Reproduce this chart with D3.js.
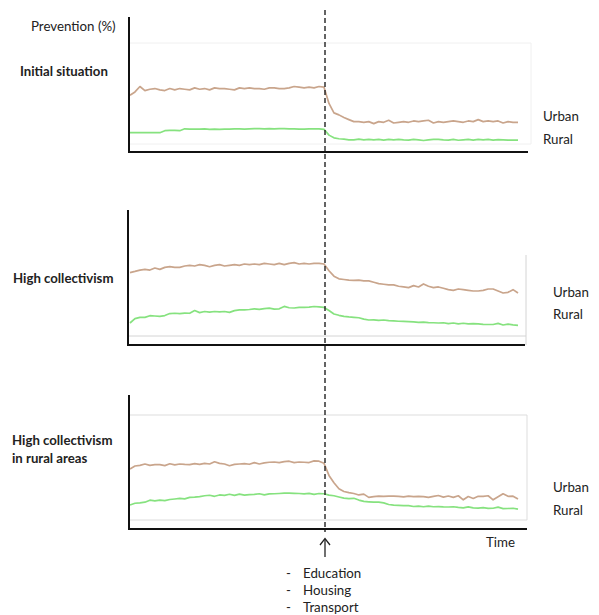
<!DOCTYPE html>
<html><head><meta charset="utf-8">
<script src="https://cdn.jsdelivr.net/npm/d3@7"></script>
<style>body{margin:0;background:#fff;} text{font-family:Lato,"Open Sans",sans-serif;fill:#222;}</style>
</head><body>
<svg id="c" width="599" height="615"></svg>
<script>
// ---- data (prevention %, relative to each panel's axis height) ----
const panelTitles = [["Initial situation"], ["High collectivism"], ["High collectivism", "in rural areas"]];
const seriesNames = ["Urban", "Rural"];
const interventionIndex = 39;
const interventionItems = ["Education", "Housing", "Transport"];
const yAxisLabel = "Prevention (%)";
const xAxisLabel = "Time";

const initialUrban = [42,44.5,48.5,45.5,46.5,47,46,45.5,47,46, 47,46.5,46,47.5,46.5,47,46,47.5,47,47,
  46.5,46,47.5,47,47.5,47,47,46.5,47.5,47.5, 47,47,47.5,48.5,48,47.5,48,47.5,48.5,48,
  36,29,27.5,25.5,24,22.5,22.5,22,22.5,21, 22.5,22,23.5,21.5,22,22.5,22,23,22.5,23,
  23.5,21.5,22.5,22,22.5,23,22.5,22,23,22.5, 24,22.5,23,22.5,23,21.5,22.5,22,22];
const initialRural = [14.3,14.3,14.3,14.3,14.3,14.3,14.3,15.8,16,16, 15.8,17.2,17,17,17,17.2,16.8,17,16.8,17,
  17,17.2,17.2,17,17.2,17.3,17.3,17.2,17.3,17.2, 17.3,17.3,17.2,17.2,17,17,17.2,17.2,17.2,16.8,
  12.5,10.5,9.8,9.5,9,9,9.5,9,9.3,9, 9.3,8.8,9.3,9,9.3,9,8.8,9.3,9,8.5,
  9,9.3,9.3,9,8.8,9.3,8.7,9,9.3,8.8, 9.3,9,9.3,8.8,9.2,9,8.8,8.8,8.8];
const collectUrban = [53.6,54.5,55.5,56,55.5,57,56,57.5,58,57.5, 57.5,58.5,59,58.5,59.5,59,58,59,59.5,58.5,
  59,59.5,59,60,59.5,60,59.5,60.5,60,59.5, 60.5,59.5,60.5,61,60,60.5,60,60.5,60.5,60,
  55,51,49,48.5,48,47.8,48,47.5,47.5,46.5, 45.5,45,44.5,44.5,43.5,43,42.5,44,43,45.2,
  43.5,42.5,43,42,41,40.5,41.5,41,40.5,40, 40,40.5,41.5,41.5,40,38.5,39,41,38.5];
const collectRural = [16.3,19.5,20.5,20.5,21.7,21.5,21.2,21.8,23.3,23.5, 23.3,23.6,23.5,25.5,24,24.8,24.3,24.8,24.6,24.8,
  24.2,25.5,26,26,26.3,26.8,26.4,27,27.3,26.6, 26.8,28.6,27.6,27.4,27.8,27.8,28,28.5,28.2,27.8,
  25.5,23,22,21.2,20.8,20.5,20.2,19.2,18.5,18.6, 18.3,18.5,18,17.8,17.6,17.5,17.3,17.1,16.8,16.9,
  16.6,16.5,16.3,16.5,15.8,16.3,15.7,16.1,15.6,15.8, 15.6,15.3,15.2,15.2,16,14.8,15.4,14.9,14.5];
const ruralCollUrban = [44.8,47,47.5,48.5,47.5,48,48,47.3,48.7,47.8, 48.5,48.2,48,48.8,48.2,49,48.5,50.2,49,48.5,
  47.2,48.2,48.5,48.8,48.3,49.5,48.5,49.3,49.8,50, 49.5,50.3,50.6,49.5,50,49.8,49.6,50.8,50.6,49,
  40,34.5,30,28,27.2,26.5,25.4,26,23.6,24.2, 24.6,24.4,24.6,24.6,24.4,24,24.6,24.2,24.3,24.2,
  23.6,24.4,25,23.8,24.6,23.6,24.8,21.8,24.2,22.8, 24.4,24.4,24.8,21.8,24,26.3,24.4,24.5,22.4];
const ruralCollRural = [17.9,19.2,19.5,20,21.5,21,21.6,21.2,22,22.4, 22.8,22.5,23.6,23.8,24.2,24.8,25.2,24.4,25.4,25.1,
  25.9,25.1,26,25.3,25.6,25.8,26.3,25.5,26.2,26.3, 26.5,26.7,26.7,26.6,26.5,26.2,26.6,25.8,26.5,26.3,
  25.3,24.8,23.9,23,22.6,22.9,21.6,20.6,20.3,20, 20,19.5,18.3,17.8,17.6,17.4,17.5,16.8,17,16.6,
  17.1,16.6,16.7,16.5,16.4,16.6,16.1,15.8,16.5,15.8, 15.6,16,15.4,15.5,16.3,15.2,15.3,15.5,14.8];

const panelData = [[initialUrban, initialRural],[collectUrban, collectRural],[ruralCollUrban, ruralCollRural]];

// ---- layout ----
const layout = [
  {left:129, top:17, bottom:152, right:528, grids:[43,144], border:[43,144], borderX:531, gridColor:"#f0f0f0",
   titleX:20, titleY:[76], urbanY:121, ruralY:144, labelX:543},
  {left:128, top:210, bottom:345, right:525, grids:[336], border:[255,345], borderX:526, gridColor:"#d4d4d4",
   titleX:13, titleY:[283], urbanY:297, ruralY:319, labelX:553},
  {left:129, top:395, bottom:529, right:527, grids:[415,520], border:[415,520], borderX:527, gridColor:"#dddddd",
   titleX:12, titleY:[445,463], urbanY:492, ruralY:515, labelX:553}
];
const colors = {Urban:"#c9a58c", Rural:"#86e27f"};

const svg = d3.select("#c");
const x = d3.scaleLinear().domain([0, 78]).range([130, 518]);

layout.forEach((L, p) => {
  const g = svg.append("g");
  const y = d3.scaleLinear().domain([0, 100]).range([L.bottom, L.top]);
  L.grids.forEach(gy => g.append("line").attr("x1", L.left).attr("x2", L.borderX).attr("y1", gy).attr("y2", gy)
      .attr("stroke", L.gridColor).attr("stroke-width", 1));
  g.append("line").attr("x1", L.borderX).attr("x2", L.borderX).attr("y1", L.border[0]).attr("y2", L.border[1])
    .attr("stroke", L.gridColor).attr("stroke-width", 1);
  const line = d3.line().x((d, i) => x(i)).y(d => y(d));
  panelData[p].forEach((vals, k) => {
    g.append("path").datum(vals).attr("d", line).attr("fill", "none")
      .attr("stroke", colors[seriesNames[k]]).attr("stroke-width", 1.7).attr("stroke-linejoin", "round");
  });
  // axes
  g.append("line").attr("x1", L.left).attr("x2", L.left).attr("y1", L.top).attr("y2", L.bottom + 1)
    .attr("stroke", "#111").attr("stroke-width", 2);
  g.append("line").attr("x1", L.left - 1).attr("x2", L.right).attr("y1", L.bottom).attr("y2", L.bottom)
    .attr("stroke", "#111").attr("stroke-width", 2);
  // titles
  panelTitles[p].forEach((t, j) => g.append("text").attr("x", L.titleX).attr("y", L.titleY[j])
    .attr("font-size", 13.2).attr("font-weight", "bold").text(t));
  g.append("text").attr("x", L.labelX).attr("y", L.urbanY).attr("font-size", 13.3).text(seriesNames[0]);
  g.append("text").attr("x", L.labelX).attr("y", L.ruralY).attr("font-size", 13.3).text(seriesNames[1]);
});

svg.append("text").attr("x", 31).attr("y", 31).attr("font-size", 13.3).text(yAxisLabel);
svg.append("text").attr("x", 486).attr("y", 547).attr("font-size", 13.3).text(xAxisLabel);

// intervention line
const ix = x(interventionIndex) + 1;
svg.append("line").attr("x1", ix).attr("x2", ix).attr("y1", 10).attr("y2", 532)
  .attr("stroke", "#222").attr("stroke-width", 1.4).attr("stroke-dasharray", "5,3");
// arrow
svg.append("line").attr("x1", ix).attr("x2", ix).attr("y1", 539).attr("y2", 557).attr("stroke", "#222").attr("stroke-width", 1.3);
svg.append("path").attr("d", `M${ix-5},${545}L${ix},${538.5}L${ix+5},${545}`).attr("fill", "none")
  .attr("stroke", "#222").attr("stroke-width", 1.3);
interventionItems.forEach((t, i) => {
  svg.append("text").attr("x", 286).attr("y", 578 + i * 17).attr("font-size", 13.3).text("-");
  svg.append("text").attr("x", 303).attr("y", 578 + i * 17).attr("font-size", 13.3).text(t);
});
</script>
</body></html>
